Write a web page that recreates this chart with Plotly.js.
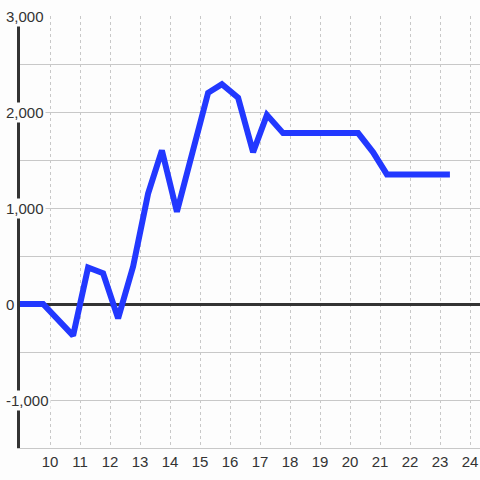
<!DOCTYPE html>
<html>
<head>
<meta charset="utf-8">
<script src="https://cdn.plot.ly/plotly-3.0.1.min.js"></script>
<style>
html,body{margin:0;padding:0;background:#fdfdfd;}
#chart{width:480px;height:480px;}
</style>
</head>
<body>
<div id="chart"></div>
<script>
var xValues = [9.0, 9.77, 10.77, 11.27, 11.77, 12.27, 12.77, 13.27, 13.73, 14.23, 15.27, 15.73, 16.27, 16.77, 17.23, 17.77, 18.27, 18.77, 19.27, 19.77, 20.27, 20.77, 21.23, 21.77, 22.27, 22.77, 23.33];
var yValues = [0, 0, -330, 380, 320, -150, 390, 1150, 1600, 960, 2200, 2290, 2150, 1580, 1970, 1780, 1780, 1780, 1780, 1780, 1780, 1580, 1350, 1350, 1350, 1350, 1350];
var xTickVals = [10, 11, 12, 13, 14, 15, 16, 17, 18, 19, 20, 21, 22, 23, 24];
var yTickVals = [3000, 2000, 1000, 0, -1000];
var yTickText = ["3,000", "2,000", "1,000", "0", "-1,000"];

var bg = "#fdfdfd";
var annotations = yTickVals.map(function (v, i) {
  return {
    xref: "paper", yref: "y", x: -0.034, y: v,
    xanchor: "left", yanchor: "middle",
    text: yTickText[i], showarrow: false,
    bgcolor: bg, borderpad: 1,
    font: {family: "Liberation Sans, Arial, sans-serif", size: 15, color: "#333"}
  };
});

var trace = {
  x: xValues, y: yValues, type: "scatter", mode: "lines",
  line: {color: "#2238ff", width: 6},
  hoverinfo: "none"
};

var layout = {
  width: 480, height: 480,
  margin: {l: 20, r: 0, t: 16, b: 32},
  paper_bgcolor: bg, plot_bgcolor: bg,
  showlegend: false,
  font: {family: "Liberation Sans, Arial, sans-serif", size: 15, color: "#333"},
  xaxis: {
    range: [9, 24.333], tickvals: xTickVals, ticktext: xTickVals.map(String),
    showgrid: true, gridcolor: "#c8c8c8", griddash: "dot", gridwidth: 1,
    zeroline: false, showline: true, linecolor: "#c8c8c8", linewidth: 1,
    ticks: "", tickfont: {size: 15, color: "#333"}, fixedrange: true
  },
  yaxis: {
    range: [-1500, 3000], dtick: 500, tick0: 0,
    showticklabels: false, ticks: "",
    showgrid: true, gridcolor: "#c8c8c8", gridwidth: 1,
    zeroline: true, zerolinecolor: "#333", zerolinewidth: 3,
    showline: true, linecolor: "#333", linewidth: 3, fixedrange: true
  },
  annotations: annotations
};

Plotly.newPlot("chart", [trace], layout, {displayModeBar: false, staticPlot: true});
</script>
</body>
</html>
